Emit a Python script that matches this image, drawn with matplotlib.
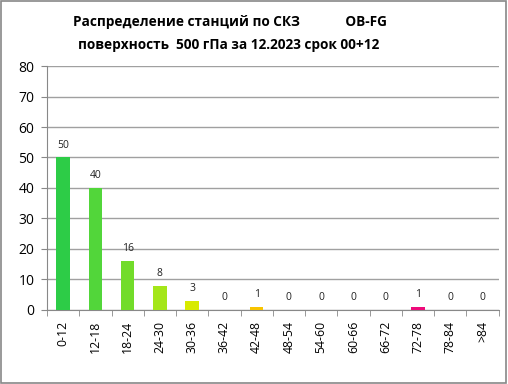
import matplotlib.pyplot as plt
from matplotlib.patches import Rectangle

categories = ['0-12', '12-18', '18-24', '24-30', '30-36', '36-42', '42-48',
              '48-54', '54-60', '60-66', '66-72', '72-78', '78-84', '>84']
counts = [50, 40, 16, 8, 3, 0, 1, 0, 0, 0, 0, 1, 0, 0]
bar_colors = ['#2dcc47', '#52d63a', '#72dc2a', '#a4e619', '#d8ea00', '#f0d800',
              '#f8c400', '#f8a000', '#f07800', '#e85000', '#e03040', '#ee0a7a',
              '#d00090', '#b000a0']

plt.rcParams['font.family'] = ['Open Sans', 'DejaVu Sans']

fig = plt.figure(figsize=(5.08, 3.84), dpi=100)
ax = fig.add_axes([0.0925, 0.193, 0.889, 0.635])

x = range(len(categories))
bars = ax.bar(x, counts, width=0.42, color=bar_colors, zorder=3)
for xi, v in zip(x, counts):
    ax.text(xi, v + 2.2, str(v), ha='center', va='bottom', fontsize=7.5, color='#222222')

ax.set_xlim(-0.5, len(categories) - 0.5)
ax.set_ylim(0, 80)
ax.set_yticks(range(0, 81, 10))
ax.yaxis.grid(True, color='#a0a0a0', linewidth=1)
ax.set_axisbelow(True)
ax.set_xticks(list(x))
ax.set_xticklabels(categories, rotation=90, fontsize=8.8)
ax.tick_params(axis='x', length=0, pad=8)
ax.set_xticks([i + 0.5 for i in range(-1, len(categories))], minor=True)
ax.tick_params(axis='x', which='minor', length=4, color='#888888')
ax.tick_params(axis='y', labelsize=10, length=4, color='#888888', pad=5)
for s in ['top', 'right']:
    ax.spines[s].set_visible(False)
ax.spines['left'].set_color('#888888')
ax.spines['bottom'].set_color('#888888')

fig.text(0.453, 0.942, 'Распределение станций по СКЗ             OB-FG',
         ha='center', va='center', fontsize=9.8, fontweight='bold')
fig.text(0.451, 0.882, 'поверхность  500 гПа за 12.2023 срок 00+12',
         ha='center', va='center', fontsize=9.8, fontweight='bold')

fig.patches.append(Rectangle((0.002, 0.003), 0.995, 0.994, transform=fig.transFigure,
                             fill=False, edgecolor='#888888', linewidth=1.2))

fig.savefig('out.png', dpi=100)
